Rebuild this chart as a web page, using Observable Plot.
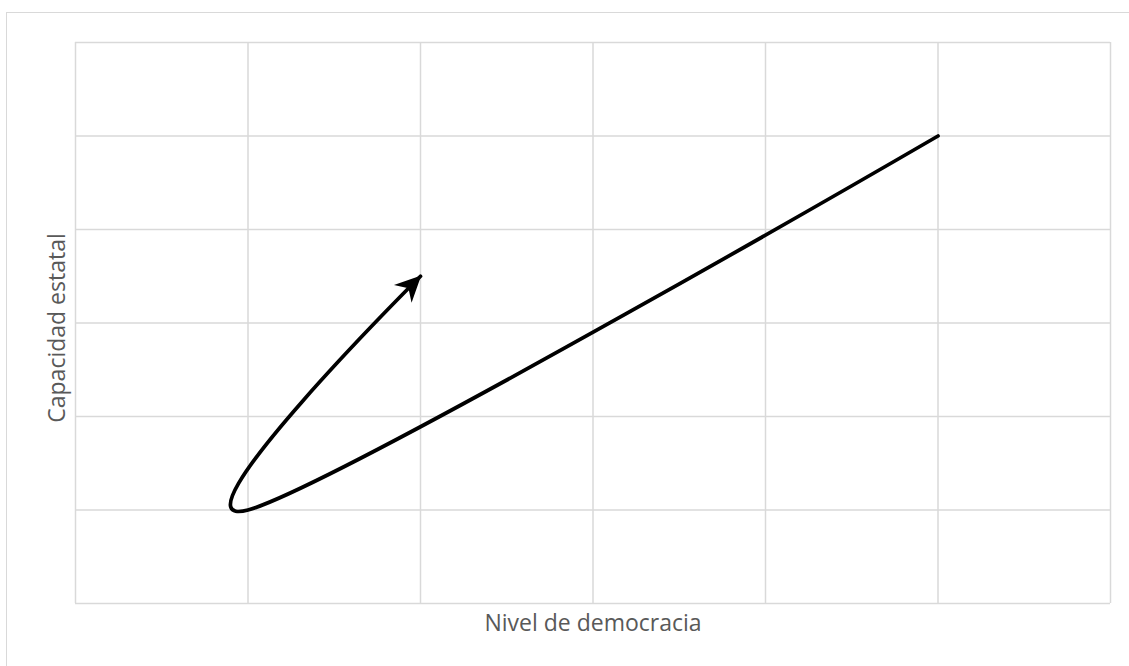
<!DOCTYPE html>
<html>
<head>
<meta charset="utf-8">
<script src="https://cdn.jsdelivr.net/npm/d3@7"></script>
<script src="https://cdn.jsdelivr.net/npm/@observablehq/plot@0.6"></script>
<style>
  html, body { margin: 0; padding: 0; background: #fff; overflow: hidden; }
  #wrap { position: relative; width: 1129px; height: 666px; overflow: hidden; }
  #border { position: absolute; left: 6px; top: 12px; width: 1300px; height: 800px;
            border: 1.5px solid #d9d9d9; box-sizing: border-box; }
  #chart { position: absolute; left: 0; top: 0; }
</style>
</head>
<body>
<div id="wrap"><div id="border"></div><div id="chart"></div></div>
<script>
// Trajectory points (democracy level, state capacity), in drawing order; drawn as a smoothed line
const democracia = [5, 1, 2];
const capacidad  = [5, 1, 3.5];
const gridTicks = [0, 1, 2, 3, 4, 5, 6];
const xLabel = "Nivel de democracia";
const yLabel = "Capacidad estatal";

const data = democracia.map((x, i) => ({x, y: capacidad[i]}));

const chart = Plot.plot({
  width: 1129,
  height: 666,
  marginLeft: 75,
  marginRight: 19,
  marginTop: 42,
  marginBottom: 63,
  style: {fontFamily: "'Open Sans', sans-serif", background: "transparent"},
  x: {domain: [0, 6], axis: null},
  y: {domain: [0, 6], axis: null},
  marks: [
    Plot.gridX(gridTicks, {stroke: "#d9d9d9", strokeOpacity: 1, strokeWidth: 1.5}),
    Plot.gridY(gridTicks, {stroke: "#d9d9d9", strokeOpacity: 1, strokeWidth: 1.5}),
    Plot.line(data, {x: "x", y: "y", curve: "cardinal", stroke: "black", strokeWidth: 3.75,
      strokeLinejoin: "round"}),
    Plot.text([xLabel], {frameAnchor: "bottom", text: d => d, lineAnchor: "top", dy: 11,
      fontSize: 23, fill: "#595959"}),
    Plot.text([yLabel], {frameAnchor: "left", text: d => d, rotate: -90, lineAnchor: "middle",
      textAnchor: "middle", dx: -18, dy: 5, fontSize: 23, fill: "#595959"})
  ]
});

// Filled notched arrowhead at the end of the trajectory
const svg = d3.select(chart);
const defs = svg.insert("defs", ":first-child");
defs.append("marker")
  .attr("id", "arrowhead")
  .attr("viewBox", "-26 -14 28 28")
  .attr("refX", 0).attr("refY", 0)
  .attr("markerUnits", "userSpaceOnUse")
  .attr("markerWidth", 28).attr("markerHeight", 28)
  .attr("orient", "auto")
  .append("path")
  .attr("d", "M1,0 L-25,-12.5 L-17,0 L-25,12.5 Z")
  .attr("fill", "black");
svg.selectAll("g[aria-label='line'] path").attr("marker-end", "url(#arrowhead)");

document.getElementById("chart").appendChild(chart);
</script>
</body>
</html>
